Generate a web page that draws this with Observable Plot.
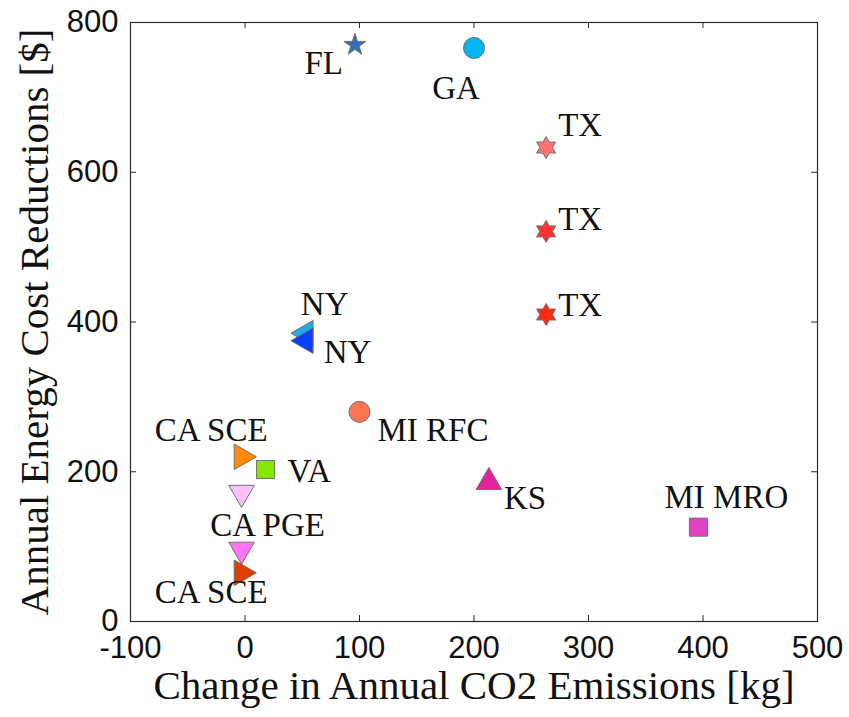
<!DOCTYPE html>
<html>
<head>
<meta charset="utf-8">
<script src="https://cdn.jsdelivr.net/npm/d3@7"></script>
<script src="https://cdn.jsdelivr.net/npm/@observablehq/plot@0.6"></script>
<style>
  body { margin: 0; background: #fff; }
  #chart svg { display: block; }
</style>
</head>
<body>
<div id="chart"></div>
<script>
// Per-region results: emissions change vs. energy cost savings
const regions = ["FL", "GA", "TX", "TX", "TX", "NY", "NY", "MI RFC", "CA SCE", "VA", "CA PGE", "CA PGE", "CA SCE", "KS", "MI MRO"];
const co2Change = [96, 200, 263, 263, 263, 53, 53, 100, -3, 18, -3, -3, -3, 213, 396];
const costReduction = [770, 766, 633, 521, 410, 385, 375, 280, 220, 203, 172, 96, 65, 186, 126];
const markerKind = ["star", "circle", "hexagram", "hexagram", "hexagram", "left", "left", "circle", "right", "square", "down", "down", "right", "up", "square"];
const markerColor = ["#336db3", "#00b3f2", "#ff7373", "#ff3333", "#ff2a14", "#1ea9ef", "#0b40f5", "#ff7552", "#ff8c00", "#86e600", "#ffc0f7", "#ff73f5", "#e03e00", "#e2239d", "#e241c6"];

const xTicks = [-100, 0, 100, 200, 300, 400, 500];
const xTickLabels = ["-100", "0", "100", "200", "300", "400", "500"];
const yTicks = [0, 200, 400, 600, 800];
const yTickLabels = ["0", "200", "400", "600", "800"];

// Label placement next to each marker: [dx, dy, textAnchor]; null = no label
const labelPlacement = [
  [-12, 18, "end"],
  [-18, 40, "middle"],
  [12, -22, "start"],
  [12, -12, "start"],
  [12, -9, "start"],
  [19, -29, "middle"],
  [18, 12, "start"],
  [18, 19, "start"],
  [26, -26, "end"],
  [22, 2, "start"],
  [26, 33, "middle"],
  null,
  [26, 20, "end"],
  [15, 16, "start"],
  [28, -30, "middle"]
];

const points = regions.map((name, i) => ({
  name,
  co2: co2Change[i],
  cost: costReduction[i],
  kind: markerKind[i],
  color: markerColor[i],
  label: labelPlacement[i]
}));

// Six-pointed star (hexagram) symbol, outer radius = r
const hexagram = {
  draw(context, size) {
    const R = Math.sqrt(size / Math.PI);
    const ri = R / Math.sqrt(3);
    for (let k = 0; k < 12; ++k) {
      const a = (k * Math.PI) / 6;
      const rr = k % 2 ? ri : R;
      const px = rr * Math.sin(a), py = -rr * Math.cos(a);
      if (k) context.lineTo(px, py); else context.moveTo(px, py);
    }
    context.closePath();
  }
};

// Marker kinds, drawn in this order
const kinds = [
  ["circle", {symbol: "circle", r: 10.5, rotate: 0}],
  ["square", {symbol: "square", r: 10.2, rotate: 0}],
  ["star", {symbol: "star", r: 6.9, rotate: 0}],
  ["hexagram", {symbol: hexagram, r: 11, rotate: 0}],
  ["up", {symbol: "triangle", r: 9.5, rotate: 0}],
  ["down", {symbol: "triangle", r: 9.5, rotate: 180}],
  ["left", {symbol: "triangle", r: 9.5, rotate: -90}],
  ["right", {symbol: "triangle", r: 9.5, rotate: 90}]
];

const W = 849, H = 717;
const mTop = 22, mBottom = 96, mLeft = 130, mRight = 32;
const frameH = H - mTop - mBottom, frameW = W - mLeft - mRight;
const tickLen = 6;
const sans = "'Liberation Sans', Arial, Helvetica, sans-serif";
const serif = "'Liberation Serif', 'Times New Roman', serif";
const axisColor = "#2b2b2b";

const dotMarks = kinds.map(([k, o]) =>
  Plot.dot(points.filter(d => d.kind === k), {
    x: "co2", y: "cost",
    symbol: o.symbol, r: o.r, rotate: o.rotate,
    fill: "color", stroke: "#707070", strokeWidth: 1
  })
);

const labelMarks = points.filter(d => d.label).map(d =>
  Plot.text([d], {
    x: "co2", y: "cost", text: "name",
    dx: d.label[0], dy: d.label[1], textAnchor: d.label[2],
    fontFamily: serif, fontSize: 33, fill: "#111"
  })
);

const chart = Plot.plot({
  width: W, height: H,
  marginTop: mTop, marginBottom: mBottom, marginLeft: mLeft, marginRight: mRight,
  style: {background: "#fff", color: "#111"},
  x: {domain: [-100, 500]},
  y: {domain: [0, 800]},
  marks: [
    // inward tick marks on all four sides
    Plot.tickX(xTicks, {x: d => d, insetTop: frameH - tickLen, stroke: axisColor}),
    Plot.tickX(xTicks, {x: d => d, insetBottom: frameH - tickLen, stroke: axisColor}),
    Plot.tickY(yTicks, {y: d => d, insetRight: frameW - tickLen, stroke: axisColor}),
    Plot.tickY(yTicks, {y: d => d, insetLeft: frameW - tickLen, stroke: axisColor}),
    Plot.axisX({ticks: xTicks, tickSize: 0, tickPadding: 14, label: null,
      tickFormat: d => xTickLabels[xTicks.indexOf(d)],
      fontFamily: sans, fontSize: 31, fill: "#111"}),
    Plot.axisY({ticks: yTicks, tickSize: 0, tickPadding: 12, label: null,
      tickFormat: d => yTickLabels[yTicks.indexOf(d)],
      fontFamily: sans, fontSize: 31, fill: "#111"}),
    Plot.text(["Change in Annual CO2 Emissions [kg]"], {
      frameAnchor: "bottom", textAnchor: "middle", dy: 77,
      fontFamily: serif, fontSize: 41, fill: "#111"
    }),
    Plot.text(["Annual Energy Cost Reductions [$]"], {
      frameAnchor: "left", textAnchor: "middle", dx: -96, rotate: -90,
      fontFamily: serif, fontSize: 41, fill: "#111"
    }),
    ...dotMarks,
    ...labelMarks,
    Plot.frame({stroke: axisColor, strokeWidth: 1.2})
  ]
});

document.getElementById("chart").appendChild(chart);
</script>
</body>
</html>
